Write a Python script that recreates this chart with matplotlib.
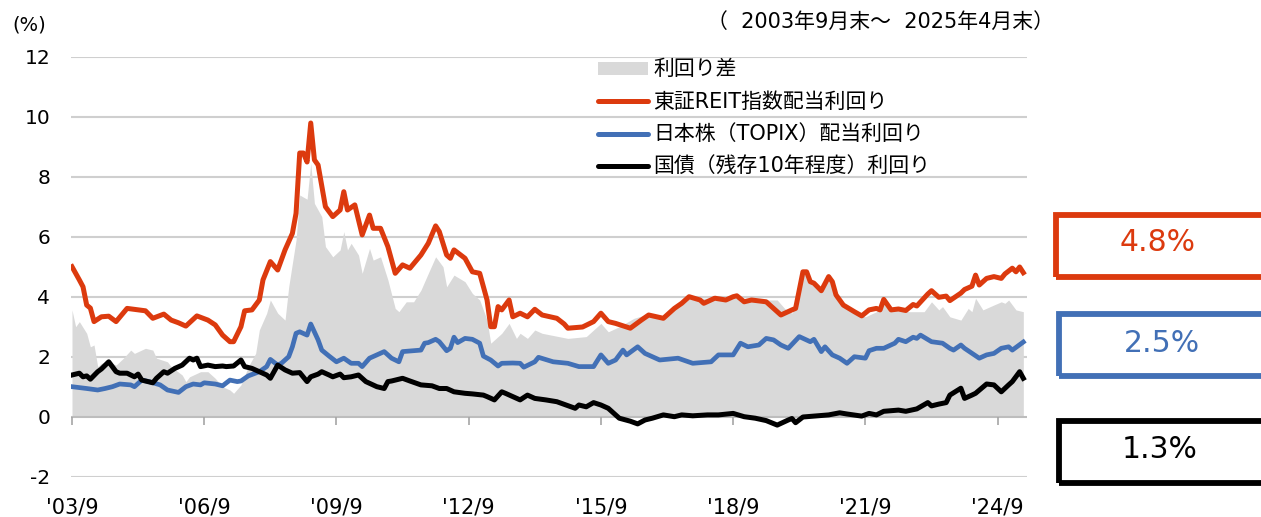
import numpy as np
import matplotlib
matplotlib.use("Agg")
import matplotlib.pyplot as plt
from matplotlib.patches import Patch, Rectangle
from matplotlib.lines import Line2D

plt.rcParams['font.family'] = ['DejaVu Sans', 'Noto Sans CJK JP']
plt.rcParams['axes.unicode_minus'] = False

# months counted from 2003/9 (0) to 2025/4 (259)
reit_m = [0, 2, 3, 4, 5, 6, 8, 10, 12, 15, 20, 22, 25, 27, 29, 31, 34, 37, 39, 41,
          43, 44, 46, 47, 49, 51, 52, 54, 56, 58, 60, 61, 62, 63, 64, 65, 66, 67, 69, 71,
          73, 74, 75, 77, 78, 79, 81, 82, 84, 86, 88, 90, 92, 95, 97, 99, 100, 102, 103, 104,
          107, 109, 111, 113, 114, 115, 116, 117, 119, 120, 122, 124, 126, 128, 132, 134, 135, 139, 142, 144,
          146, 148, 152, 155, 157, 161, 164, 166, 168, 171, 172, 175, 178, 180, 181, 183, 185, 189, 191, 193,
          196, 197, 199, 200, 201, 202, 204, 206, 207, 208, 210, 213, 215, 217, 219, 220, 221, 223, 225, 227,
          229, 230, 233, 234, 236, 238, 239, 242, 243, 245, 246, 247, 249, 251, 253, 254, 256, 257, 258, 259]
reit = [5.01, 4.57, 4.34, 3.73, 3.63, 3.18, 3.34, 3.36, 3.18, 3.62, 3.54, 3.29, 3.43, 3.23, 3.14, 3.03, 3.37, 3.23, 3.07, 2.73,
        2.51, 2.51, 3.01, 3.54, 3.57, 3.90, 4.57, 5.18, 4.90, 5.57, 6.12, 6.79, 8.80, 8.80, 8.50, 9.80, 8.57, 8.40, 7.01, 6.68,
        6.90, 7.51, 6.90, 7.07, 6.57, 6.07, 6.73, 6.29, 6.29, 5.68, 4.79, 5.07, 4.96, 5.40, 5.79, 6.37, 6.18, 5.40, 5.29, 5.57,
        5.29, 4.84, 4.79, 3.90, 3.01, 3.01, 3.68, 3.57, 3.90, 3.34, 3.46, 3.34, 3.59, 3.40, 3.29, 3.10, 2.96, 3.00, 3.18, 3.46,
        3.18, 3.12, 2.96, 3.23, 3.40, 3.29, 3.62, 3.79, 4.01, 3.90, 3.79, 3.96, 3.90, 4.01, 4.04, 3.84, 3.90, 3.84, 3.62, 3.40,
        3.57, 3.62, 4.84, 4.84, 4.51, 4.46, 4.21, 4.68, 4.51, 4.07, 3.73, 3.51, 3.37, 3.57, 3.62, 3.57, 3.92, 3.57, 3.60, 3.55,
        3.75, 3.70, 4.10, 4.21, 3.99, 4.03, 3.88, 4.13, 4.25, 4.36, 4.73, 4.40, 4.62, 4.68, 4.62, 4.77, 4.96, 4.84, 5.00, 4.81]

topix_m = [0, 4, 7, 9, 11, 13, 16, 17, 19, 21, 24, 26, 29, 31, 33, 35, 36, 39, 41, 43,
           45, 46, 48, 51, 53, 54, 56, 57, 59, 60, 61, 62, 64, 65, 67, 68, 70, 72, 74, 76,
           78, 79, 81, 83, 85, 87, 89, 90, 93, 95, 96, 97, 99, 100, 102, 103, 104, 105, 107, 109,
           111, 112, 114, 116, 117, 120, 122, 123, 126, 127, 131, 135, 138, 142, 144, 146, 148, 150, 151, 154,
           156, 160, 165, 169, 174, 176, 180, 182, 184, 187, 189, 191, 193, 195, 198, 201, 202, 204, 205, 207,
           209, 211, 213, 216, 217, 219, 221, 224, 225, 227, 229, 230, 231, 234, 237, 239, 240, 242, 243, 247,
           249, 251, 253, 255, 256, 259]
topix = [1.01, 0.95, 0.90, 0.95, 1.01, 1.10, 1.07, 1.01, 1.23, 1.18, 1.07, 0.90, 0.82, 1.01, 1.10, 1.07, 1.14, 1.10, 1.04, 1.23,
         1.18, 1.20, 1.37, 1.51, 1.68, 1.92, 1.73, 1.79, 2.01, 2.34, 2.79, 2.84, 2.73, 3.10, 2.57, 2.23, 2.03, 1.84, 1.96, 1.79,
         1.79, 1.68, 1.96, 2.07, 2.18, 1.96, 1.84, 2.18, 2.21, 2.23, 2.46, 2.48, 2.59, 2.51, 2.21, 2.29, 2.66, 2.48, 2.62, 2.59,
         2.46, 2.03, 1.90, 1.70, 1.79, 1.80, 1.79, 1.66, 1.84, 1.99, 1.84, 1.79, 1.68, 1.68, 2.07, 1.79, 1.90, 2.23, 2.07, 2.34,
         2.12, 1.90, 1.96, 1.79, 1.84, 2.07, 2.07, 2.46, 2.34, 2.40, 2.62, 2.57, 2.40, 2.29, 2.68, 2.51, 2.59, 2.18, 2.34, 2.07,
         1.96, 1.79, 2.01, 1.96, 2.21, 2.29, 2.29, 2.46, 2.59, 2.51, 2.66, 2.62, 2.73, 2.51, 2.46, 2.29, 2.23, 2.40, 2.29, 1.96,
         2.07, 2.12, 2.29, 2.34, 2.23, 2.50]

jgb_m = [0, 2, 3, 4, 5, 7, 8, 10, 12, 13, 15, 17, 18, 19, 22, 23, 25, 26, 28, 30,
         32, 33, 34, 35, 37, 39, 41, 42, 44, 46, 47, 49, 51, 53, 54, 56, 58, 60, 62, 64,
         65, 67, 68, 70, 71, 73, 74, 76, 78, 80, 83, 85, 86, 87, 90, 92, 95, 98, 100, 102,
         104, 107, 109, 112, 113, 115, 117, 118, 120, 122, 124, 126, 129, 132, 137, 138, 140, 142, 144, 146,
         149, 152, 154, 156, 158, 161, 164, 166, 169, 173, 176, 180, 183, 186, 189, 192, 195, 196, 197, 199,
         202, 206, 209, 211, 215, 217, 219, 221, 225, 227, 230, 233, 234, 236, 238, 239, 242, 243, 245, 246,
         249, 251, 253, 255, 256, 258, 259]
jgb = [1.40, 1.46, 1.34, 1.37, 1.26, 1.51, 1.60, 1.84, 1.51, 1.46, 1.46, 1.34, 1.43, 1.23, 1.14, 1.29, 1.51, 1.46, 1.62, 1.73,
       1.96, 1.90, 1.96, 1.68, 1.73, 1.68, 1.70, 1.68, 1.70, 1.90, 1.68, 1.62, 1.51, 1.40, 1.29, 1.73, 1.57, 1.46, 1.48, 1.18,
       1.34, 1.43, 1.51, 1.40, 1.34, 1.43, 1.31, 1.34, 1.40, 1.18, 1.01, 0.95, 1.18, 1.20, 1.29, 1.20, 1.07, 1.04, 0.95, 0.95,
       0.84, 0.79, 0.77, 0.73, 0.68, 0.57, 0.84, 0.79, 0.68, 0.57, 0.73, 0.62, 0.57, 0.51, 0.29, 0.40, 0.34, 0.48, 0.40, 0.29,
       -0.04, -0.14, -0.23, -0.10, -0.04, 0.07, 0.01, 0.07, 0.04, 0.07, 0.07, 0.12, 0.01, -0.04, -0.12, -0.27, -0.10, -0.05, -0.19, 0.00,
       0.03, 0.07, 0.14, 0.10, 0.03, 0.12, 0.07, 0.19, 0.23, 0.19, 0.27, 0.48, 0.37, 0.43, 0.48, 0.73, 0.96, 0.62, 0.73, 0.79,
       1.10, 1.07, 0.84, 1.07, 1.18, 1.51, 1.29]

spread_m = [0, 1, 2, 4, 5, 6, 7, 8, 10, 12, 14, 16, 17, 20, 22, 23, 26, 27, 30, 31,
            32, 35, 37, 39, 41, 43, 44, 46, 48, 50, 51, 53, 54, 56, 58, 59, 61, 62, 64, 65,
            66, 68, 69, 71, 73, 74, 75, 76, 78, 79, 81, 82, 84, 86, 88, 89, 91, 93, 95, 97,
            99, 101, 102, 104, 107, 109, 111, 113, 114, 116, 117, 119, 121, 122, 124, 126, 128, 135, 140, 144,
            146, 149, 153, 156, 161, 164, 168, 180, 189, 192, 194, 196, 197, 199, 200, 201, 203, 206, 208, 213,
            216, 219, 221, 223, 228, 232, 234, 236, 237, 239, 242, 244, 245, 246, 248, 250, 253, 254, 255, 257,
            259]
spread = [3.57, 3.01, 3.18, 2.79, 2.34, 2.40, 1.68, 1.79, 1.84, 1.73, 1.96, 2.23, 2.12, 2.29, 2.23, 1.96, 1.84, 1.68, 1.40, 1.18,
          1.34, 1.51, 1.51, 1.29, 1.01, 0.90, 0.79, 1.07, 1.68, 2.12, 2.90, 3.46, 3.90, 3.46, 3.23, 4.34, 5.90, 7.40, 7.26, 8.46,
          7.12, 6.68, 5.68, 5.34, 5.57, 6.18, 5.57, 5.79, 5.40, 4.79, 5.62, 5.23, 5.34, 4.57, 3.62, 3.51, 3.84, 3.84, 4.23, 4.79,
          5.34, 5.01, 4.34, 4.73, 4.51, 4.12, 3.90, 3.23, 2.46, 2.68, 2.79, 3.12, 2.62, 2.79, 2.62, 2.90, 2.79, 2.62, 2.68, 3.12,
          2.84, 3.01, 3.29, 3.40, 3.29, 3.62, 3.96, 3.96, 3.90, 3.90, 3.62, 3.46, 3.70, 4.79, 4.80, 4.50, 4.29, 4.62, 4.01, 3.46,
          3.34, 3.51, 3.84, 3.57, 3.51, 3.51, 3.84, 3.57, 3.68, 3.34, 3.23, 3.62, 3.51, 3.96, 3.57, 3.68, 3.84, 3.79, 3.90, 3.57,
          3.51]

tick_m = [0, 36, 72, 108, 144, 180, 216, 252]
tick_labels = ["'03/9", "'06/9", "'09/9", "'12/9", "'15/9", "'18/9", "'21/9", "'24/9"]
latest = ["4.8%", "2.5%", "1.3%"]

RED = '#DC3A0E'
BLUE = '#4270B6'
GRAY = '#D9D9D9'

fig = plt.figure(figsize=(12.61, 5.17), dpi=100)
ax = fig.add_axes([71 / 1261, 40 / 517, 956 / 1261, 420 / 517])

ax.fill_between(spread_m, 0, spread, color=GRAY, lw=0, zorder=1)
ax.plot(reit_m, reit, color=RED, lw=3.6, solid_joinstyle='round', zorder=3)
ax.plot(topix_m, topix, color=BLUE, lw=3.4, solid_joinstyle='round', zorder=3)
ax.plot(jgb_m, jgb, color='black', lw=3.6, solid_joinstyle='round', zorder=4)

ax.set_xlim(-0.27, 260)
ax.set_ylim(-2, 12)
ax.set_yticks(range(-2, 13, 2))
for v in [-2, 2, 4, 6, 8, 10, 12]:
    ax.axhline(v, color='#CFCFCF', lw=1.5, zorder=0)
ax.axhline(0, color='#BDBDBD', lw=1.5, zorder=2)
ax.vlines(tick_m, -0.27, 0, color='#A6A6A6', lw=1.2, zorder=2)
ax.set_xticks(tick_m)
ax.set_xticklabels(tick_labels)
ax.tick_params(axis='x', length=0, pad=15, labelsize=15)
ax.tick_params(axis='y', length=0, pad=15, labelsize=14.5)
for s in ax.spines.values():
    s.set_visible(False)

handles = [Patch(facecolor=GRAY, edgecolor='none'),
           Line2D([], [], color=RED, lw=3.6, solid_capstyle='round'),
           Line2D([], [], color=BLUE, lw=3.6, solid_capstyle='round'),
           Line2D([], [], color='black', lw=3.6, solid_capstyle='round')]
labels = ['利回り差', '東証REIT指数配当利回り', '日本株（TOPIX）配当利回り', '国債（残存10年程度）利回り']
fig.legend(handles, labels, loc='upper left', bbox_to_anchor=(588 / 1261, 1 - 49 / 517),
           frameon=False, fontsize=15, handlelength=2.4, handleheight=0.58,
           handletextpad=0.25, labelspacing=0.6, borderpad=0)

fig.text(12 / 1261, 1 - 25 / 517, '(%)', fontsize=14, va='center', ha='left')
fig.text(1054 / 1261, 1 - 22 / 517, '（  2003年9月末～  2025年4月末）', fontsize=15,
         va='center', ha='right')

boxes = [(1056, 215, 277, RED, 1158, 243), (1059, 314, 376, BLUE, 1162, 343),
         (1059, 421, 483, 'black', 1160, 450)]
for (x0, y0, y1, c, tx, ty), lab in zip(boxes, latest):
    fig.patches.append(Rectangle((x0 / 1261, 1 - y1 / 517), 220 / 1261, (y1 - y0) / 517,
                                 transform=fig.transFigure, fill=False, edgecolor=c,
                                 lw=4.2, joinstyle='miter'))
    fig.text(tx / 1261, 1 - ty / 517, lab, color=c, fontsize=21.5, ha='center', va='center')

fig.savefig('out.png', dpi=100)
